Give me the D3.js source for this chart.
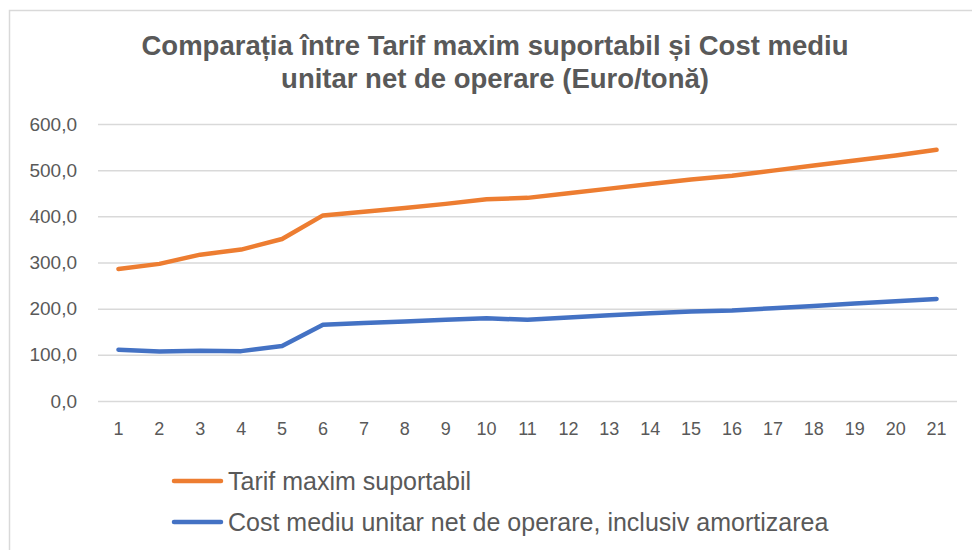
<!DOCTYPE html>
<html>
<head>
<meta charset="utf-8">
<script src="https://cdn.jsdelivr.net/npm/d3@7"></script>
<style>
  body { margin: 0; background: #fff; }
  svg { display: block; font-family: "Liberation Sans", Arial, sans-serif; }
</style>
</head>
<body>
<div id="chart"></div>
<script>
// Data
const categories = d3.range(1, 22).map(String);
const tarifMaxim = [286, 297, 317, 328, 351, 402, 410, 418, 427, 437, 440, 450, 460, 470, 480, 488, 499, 510, 521, 532, 544];
const costMediu = [111, 107, 109, 108, 119, 165, 169, 172, 176, 179, 176, 181, 186, 190, 194, 196, 201, 206, 211, 216, 221];
const yTicks = [0, 100, 200, 300, 400, 500, 600];
const titleLines = ['Comparația între Tarif maxim suportabil și Cost mediu', 'unitar net de operare (Euro/tonă)'];

const series = [
    { name: 'Tarif maxim suportabil', values: tarifMaxim, color: '#ED7D31' },
    { name: 'Cost mediu unitar net de operare, inclusiv amortizarea', values: costMediu, color: '#4472C4' }
];

const width = 972, height = 550;
const margin = { top: 124, right: 15, bottom: 149, left: 98 };
const chartWidth = width - margin.left - margin.right;
const chartHeight = height - margin.top - margin.bottom;

const svg = d3.select('#chart')
    .append('svg')
    .attr('width', width)
    .attr('height', height);

// Outer chart border
svg.append('rect')
    .attr('x', 9.5)
    .attr('y', 10.5)
    .attr('width', width + 20)
    .attr('height', height + 20)
    .attr('fill', 'none')
    .attr('stroke', '#d9d9d9')
    .attr('stroke-width', 1.5);

// Title
svg.append('text')
    .attr('x', 495)
    .attr('y', 55)
    .attr('text-anchor', 'middle')
    .style('font-size', '27.5px')
    .style('font-weight', 'bold')
    .style('fill', '#595959')
    .selectAll('tspan')
    .data(titleLines)
    .enter()
    .append('tspan')
    .attr('x', 495)
    .attr('dy', (d, i) => i === 0 ? 0 : 33)
    .text(d => d);

const xScale = d3.scaleBand()
    .domain(categories)
    .range([0, chartWidth]);

const yScale = d3.scaleLinear()
    .domain([0, 600])
    .range([chartHeight, 0]);

const g = svg.append('g')
    .attr('transform', `translate(${margin.left},${margin.top})`);

// Grid
const yAxis = d3.axisLeft(yScale)
    .tickValues(yTicks)
    .tickSize(-chartWidth)
    .tickFormat(d => d3.format('.1f')(d).replace('.', ','));

const yg = g.append('g').call(yAxis);
yg.select('.domain').remove();
yg.selectAll('line')
    .style('stroke', '#d9d9d9')
    .style('stroke-width', 1.5);
yg.selectAll('text')
    .attr('x', -21)
    .style('font-size', '19px')
    .style('fill', '#595959');

const xAxis = d3.axisBottom(xScale).tickSize(0).tickPadding(21);
const xg = g.append('g')
    .attr('transform', `translate(0,${chartHeight})`)
    .call(xAxis);
xg.select('.domain').remove();
xg.selectAll('text')
    .style('font-size', '18px')
    .style('fill', '#595959');

// Lines
const line = d3.line()
    .x((d, i) => xScale(categories[i]) + xScale.bandwidth() / 2)
    .y(d => yScale(d));

g.selectAll('.series-line')
    .data(series)
    .enter()
    .append('path')
    .attr('class', 'series-line')
    .attr('d', d => line(d.values))
    .attr('fill', 'none')
    .attr('stroke', d => d.color)
    .attr('stroke-width', 4.5)
    .attr('stroke-linecap', 'round')
    .attr('stroke-linejoin', 'round');

// Legend
const legend = svg.selectAll('.legend-item')
    .data(series)
    .enter()
    .append('g')
    .attr('class', 'legend-item')
    .attr('transform', (d, i) => `translate(174,${481 + i * 41})`);

legend.append('line')
    .attr('x1', 0)
    .attr('x2', 47)
    .attr('stroke', d => d.color)
    .attr('stroke-width', 4.5)
    .attr('stroke-linecap', 'round');

legend.append('text')
    .attr('x', 54)
    .attr('dy', '0.35em')
    .style('font-size', '25px')
    .style('fill', '#595959')
    .text(d => d.name);
</script>
</body>
</html>
